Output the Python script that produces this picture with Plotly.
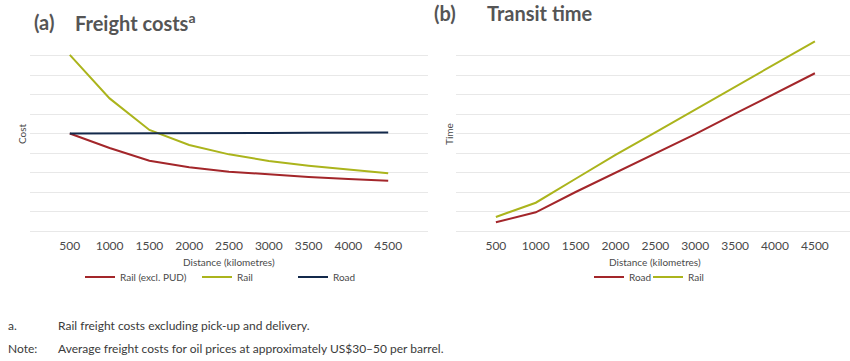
import plotly.graph_objects as go

distance = [500, 1000, 1500, 2000, 2500, 3000, 3500, 4000, 4500]
cost_rail_excl_pud = [5.0, 4.26, 3.6, 3.27, 3.04, 2.9, 2.77, 2.67, 2.58]
cost_rail = [9.03, 6.8, 5.18, 4.41, 3.93, 3.59, 3.35, 3.14, 2.96]
cost_road = [5.0, 5.0, 5.01, 5.02, 5.02, 5.03, 5.04, 5.05, 5.05]
time_road = [0.45, 0.96, 2.0, 3.0, 3.98, 4.97, 6.02, 7.05, 8.09]
time_rail = [0.72, 1.45, 2.68, 3.9, 5.06, 6.22, 7.38, 8.55, 9.73]
x_ticks = [500, 1000, 1500, 2000, 2500, 3000, 3500, 4000, 4500]

RED = "#a3262a"
OLIVE = "#abb41c"
NAVY = "#13294b"
GRID = "#e8e8e8"
TXT = "#4a4a4a"
FONT = "Lato"

W, H = 850, 361
def px(x):
    return x / W
def py(y):
    return 1 - y / H

fig = go.Figure()
fig.add_trace(go.Scatter(x=distance, y=cost_rail_excl_pud, mode="lines", name="Rail (excl. PUD)",
                         line=dict(color=RED, width=2), xaxis="x", yaxis="y", legend="legend"))
fig.add_trace(go.Scatter(x=distance, y=cost_rail, mode="lines", name="Rail",
                         line=dict(color=OLIVE, width=2), xaxis="x", yaxis="y", legend="legend2"))
fig.add_trace(go.Scatter(x=distance, y=cost_road, mode="lines", name="Road",
                         line=dict(color=NAVY, width=2), xaxis="x", yaxis="y", legend="legend3"))
fig.add_trace(go.Scatter(x=distance, y=time_road, mode="lines", name="Road",
                         line=dict(color=RED, width=2), xaxis="x2", yaxis="y2", legend="legend4"))
fig.add_trace(go.Scatter(x=distance, y=time_rail, mode="lines", name="Rail",
                         line=dict(color=OLIVE, width=2), xaxis="x2", yaxis="y2", legend="legend5"))

xcommon = dict(tickvals=x_ticks, showgrid=False, zeroline=False, showline=False, ticks="",
               ticklabelstandoff=6,
               tickfont=dict(family=FONT, size=12, color=TXT), fixedrange=True)
ycommon = dict(range=[0, 10], dtick=1, tick0=0, showticklabels=False, gridcolor=GRID, gridwidth=1,
               zeroline=True, zerolinecolor=GRID, zerolinewidth=1, showline=False, ticks="",
               fixedrange=True)

def leg(x, y):
    return dict(x=x, y=y, xanchor="left", yanchor="middle", orientation="h",
                font=dict(family=FONT, size=10, color=TXT), bgcolor="rgba(0,0,0,0)",
                borderwidth=0, tracegroupgap=0, itemwidth=30)

ly = py(277)
fig.update_layout(
    width=W, height=H, margin=dict(l=0, r=0, t=0, b=0),
    paper_bgcolor="white", plot_bgcolor="white", showlegend=True,
    xaxis=dict(domain=[px(30), px(428)], range=[0, 5000], anchor="y", **xcommon),
    yaxis=dict(domain=[py(231), py(36)], anchor="x", **ycommon),
    xaxis2=dict(domain=[px(456), 1.0], range=[0, 4940], anchor="y2", **xcommon),
    yaxis2=dict(domain=[py(231), py(36)], anchor="x2", **ycommon),
    legend=leg(px(80), ly),
    legend2=leg(px(197), ly),
    legend3=leg(px(293), ly),
    legend4=leg(px(589), ly),
    legend5=leg(px(648), ly),
)

ann = []
def A(text, x, y, size, color=TXT, xanchor="left", bold=False, angle=0, family=FONT):
    ann.append(dict(text=("<b>%s</b>" % text) if bold else text, x=px(x), y=py(y), xref="paper", yref="paper",
                    xanchor=xanchor, yanchor="middle", showarrow=False, textangle=angle,
                    font=dict(family=family, size=size, color=color)))

A("(a)", 32, 22, 20, "#555555", bold=True)
A("Freight costs<sup>a</sup>", 73, 22, 20, "#555555", bold=True)
A("(b)", 432, 13, 20, "#555555", bold=True)
A("Transit time", 485, 13, 20, "#555555", bold=True)
A("Cost", 22, 134, 10, TXT, xanchor="center", angle=-90)
A("Time", 449, 134, 10, TXT, xanchor="center", angle=-90)
A("Distance (kilometres)", 229, 262, 10, TXT, xanchor="center")
A("Distance (kilometres)", 655, 262, 10, TXT, xanchor="center")
A("a.", 6, 325, 12, "#3a3a3a")
A("Rail freight costs excluding pick-up and delivery.", 56, 325, 12, "#3a3a3a")
A("Note:", 6, 348, 12, "#3a3a3a")
A("Average freight costs for oil prices at approximately US$30–50 per barrel.", 56, 348, 12, "#3a3a3a")
fig.update_layout(annotations=ann)

fig.write_html("out.html", config={"displayModeBar": False},
               post_script="document.body.style.margin='0';document.body.style.padding='0';")
